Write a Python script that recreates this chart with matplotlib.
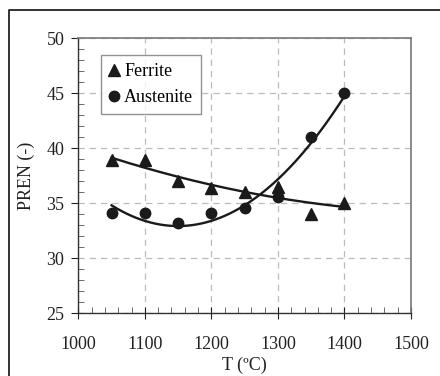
import numpy as np
import matplotlib
matplotlib.use("Agg")
import matplotlib.pyplot as plt
from matplotlib.lines import Line2D
from matplotlib.ticker import MultipleLocator

plt.rcParams['font.family'] = ['Liberation Serif', 'DejaVu Serif']

temps = [1050, 1100, 1150, 1200, 1250, 1300, 1350, 1400]
ferrite = [38.9, 38.9, 37.0, 36.4, 36.0, 36.5, 34.0, 35.0]
austenite = [34.1, 34.1, 33.2, 34.1, 34.6, 35.6, 41.05, 45.05]
x_ticks = [1000, 1100, 1200, 1300, 1400, 1500]
y_ticks = [25, 30, 35, 40, 45, 50]

fig = plt.figure(figsize=(4.4, 3.76), dpi=100)
ax = fig.add_axes([78.3/440, 1-313.3/376, (411-78.3)/440, (313.3-38.3)/376])

# outer frame
fig.add_artist(Line2D([8.5/440, 8.5/440, 1.0], [0, 1-10/376, 1-10/376],
                      transform=fig.transFigure, color='#222222', lw=1.3))

ax.set_xlim(1000, 1500)
ax.set_ylim(25, 50)
ax.set_xticks(x_ticks)
ax.set_yticks(y_ticks)
ax.xaxis.set_minor_locator(MultipleLocator(20))
ax.yaxis.set_minor_locator(MultipleLocator(1))
ax.tick_params(which='major', direction='out', length=5, width=0.8, labelsize=13, colors='#222222')
ax.tick_params(which='minor', direction='in', length=4, width=0.6, color='#555555')
ax.tick_params(axis='x', which='major', direction='inout', length=8, pad=12)
ax.tick_params(axis='y', which='major', pad=5)
ax.grid(True, which='major', color='#bbbbbb', linestyle=(0, (5, 4)), lw=0.9)
ax.set_axisbelow(True)
for s in ['left', 'bottom']:
    ax.spines[s].set_color('#333333')
    ax.spines[s].set_linewidth(1.0)
for s in ['top', 'right']:
    ax.spines[s].set_color('#777777')
    ax.spines[s].set_linewidth(1.2)

t = np.array(temps, float)
xs = np.linspace(1050, 1400, 200)
pf = np.polyfit(t, ferrite, 2)
pa = np.polyfit(t, austenite, 2)
ax.plot(xs, np.polyval(pf, xs), color='#1a1a1a', lw=1.7, zorder=3)
ax.plot(xs, np.polyval(pa, xs), color='#1a1a1a', lw=1.7, zorder=3)

ax.plot(temps, ferrite, linestyle='none', marker='^', ms=8.5, color='#1a1a1a', label='Ferrite', zorder=4)
ax.plot(temps, austenite, linestyle='none', marker='o', ms=7.5, color='#1a1a1a', label='Austenite', zorder=4)

leg = ax.legend(loc='upper left', bbox_to_anchor=((100.7-78.3)/332.7, 1-(55-38.3)/275),
                frameon=True, fancybox=False, edgecolor='#777777', fontsize=13,
                handlelength=0.6, handletextpad=0.25, borderpad=0.45, labelspacing=0.5,
                borderaxespad=0)
leg.get_frame().set_linewidth(1.0)

ax.set_xlabel('T (ºC)', fontsize=13, labelpad=3, color='#222222')
ax.set_ylabel('PREN (-)', fontsize=13, labelpad=8, color='#222222')

fig.savefig('out.png', dpi=100)
